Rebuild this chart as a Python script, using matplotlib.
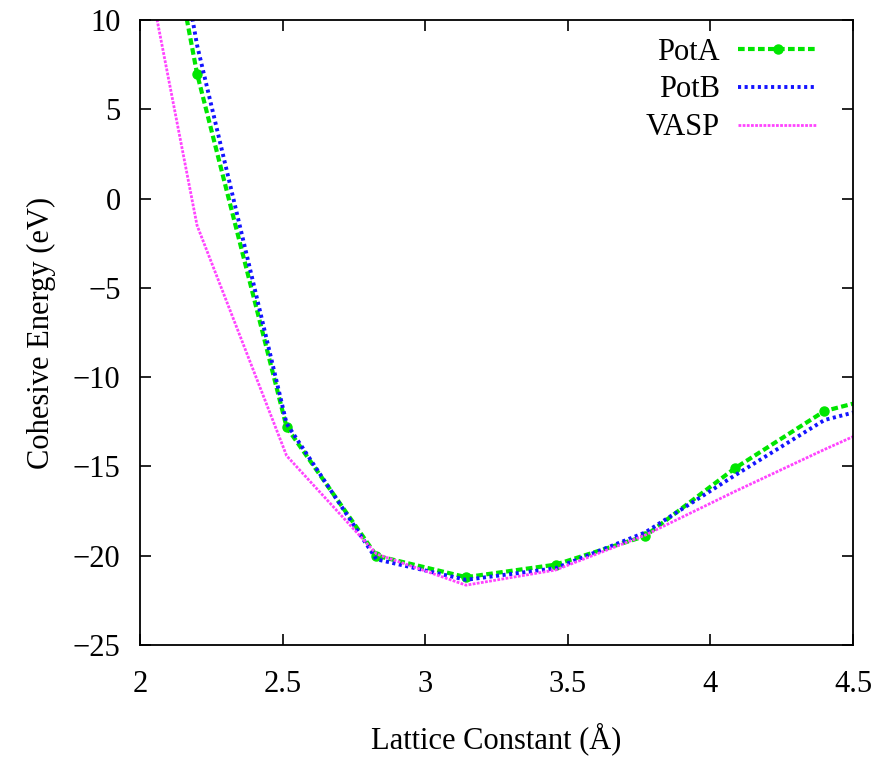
import matplotlib
matplotlib.use("Agg")
import matplotlib.pyplot as plt

plt.rcParams['font.family'] = ['Liberation Serif', 'DejaVu Serif']
plt.rcParams['axes.unicode_minus'] = True

lattice = [1.886, 2.2, 2.514, 2.829, 3.143, 3.457, 3.771, 4.086, 4.4, 4.714]
pot_a = [33.6, 7.0, -12.8, -20.0, -21.2, -20.5, -18.9, -15.1, -11.9, -10.6]
pot_b = [37.0, 8.6, -12.6, -20.2, -21.35, -20.7, -18.7, -15.5, -12.4, -11.1]
vasp = [24.3, -1.5, -14.4, -19.9, -21.65, -20.8, -18.85, -16.4, -14.05, -11.8]

fig = plt.figure(figsize=(8.9, 7.58), dpi=100)
ax = fig.add_axes([140/890, 1-645/758, (853-140)/890, (645-20)/758])

ax.plot(lattice, pot_a, color='#00e600', lw=3.0, ls=(0, (1.6, 0.8)), marker='o',
        ms=6.5, label='PotA')
ax.plot(lattice, pot_b, color='#1414ff', lw=2.8, ls=(0, (0.8, 0.9)), label='PotB')
ax.plot(lattice, vasp, color='#ff44ff', lw=2.0, ls=(0, (1.0, 0.5)), label='VASP')

ax.set_xlim(2, 4.5)
ax.set_ylim(-25, 10)
ax.set_xticks([2, 2.5, 3, 3.5, 4, 4.5])
ax.set_xticklabels(['2', '2.5', '3', '3.5', '4', '4.5'])
ax.set_yticks([-25, -20, -15, -10, -5, 0, 5, 10])
ax.tick_params(direction='in', top=True, right=True, length=8, width=1.2,
               labelsize=22, colors='black')
ax.tick_params(axis='x', pad=18)
ax.tick_params(axis='y', pad=14)
for s in ax.spines.values():
    s.set_linewidth(1.3)

ax.set_xlabel('Lattice Constant (Å)', fontsize=22, labelpad=17)
ax.set_ylabel('Cohesive Energy (eV)', fontsize=22, labelpad=12)

leg = ax.legend(loc='upper right', bbox_to_anchor=(0.95, 0.972), frameon=False,
                markerfirst=False, fontsize=22, handlelength=2.6,
                handletextpad=0.6, labelspacing=0.29, borderaxespad=0.0,
                borderpad=0.0, markerscale=1.0)
for t in leg.get_texts():
    t.set_ha('right')

fig.savefig('out.png', dpi=100)
